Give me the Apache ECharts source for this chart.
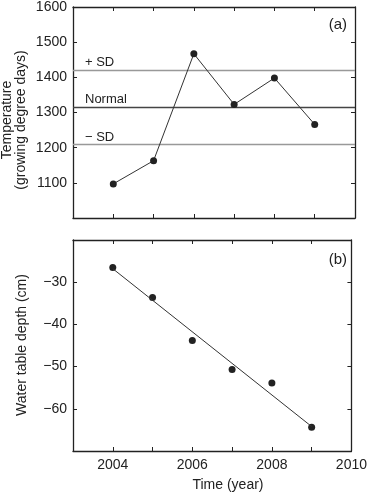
<!DOCTYPE html>
<html>
<head>
<meta charset="utf-8">
<script src="https://cdn.jsdelivr.net/npm/echarts@6/dist/echarts.min.js"></script>
<style>html,body{margin:0;padding:0;background:#fff;}#c{width:370px;height:493px;}</style>
</head>
<body>
<div id="c"></div>
<script>
var years = [2004, 2005, 2006, 2007, 2008, 2009];
var temperature = [1097, 1163, 1467, 1323, 1398, 1266];
var waterDepth = [-26.5, -33.6, -43.8, -50.7, -53.9, -64.4];
var fitYears = [2004, 2009];
var fitDepth = [-26.8, -64.2];
var refNames = ['+ SD', 'Normal', '\u2212 SD'];
var refValues = [1421, 1316, 1209];
var tempTickLabels = ['1100', '1200', '1300', '1400', '1500', '1600'];
var depthTickLabels = ['-30', '-40', '-50', '-60'];
var yearTickLabels = ['2004', '2006', '2008', '2010'];

var font = 'Liberation Sans, Arial, Helvetica, sans-serif';
var ink = '#222';

function frameAxis(gridIndex, pos, extra) {
  var a = {
    gridIndex: gridIndex, type: 'value', position: pos,
    axisLine: {show: true, onZero: false, lineStyle: {color: ink, width: 1.3}},
    axisTick: {show: true, inside: true, length: 4, lineStyle: {color: ink, width: 1}},
    axisLabel: {show: false},
    splitLine: {show: false}
  };
  for (var k in extra) a[k] = extra[k];
  return a;
}

var xBase = {min: 2003, max: 2010, interval: 1};
var labelStyle = {color: ink, fontSize: 14, fontFamily: font};

var option = {
  animation: false,
  backgroundColor: '#fff',
  grid: [
    {left: 73, top: 6, width: 282, height: 212},
    {left: 73, top: 240, width: 282, height: 211}
  ],
  xAxis: [
    frameAxis(0, 'bottom', xBase),
    frameAxis(0, 'top', xBase),
    frameAxis(1, 'bottom', Object.assign({}, xBase, {
      axisLabel: Object.assign({show: true, margin: 7, showMinLabel: true, showMaxLabel: true,
        formatter: function (v) { return yearTickLabels.indexOf(String(v)) >= 0 ? String(v) : ''; }}, labelStyle)
    })),
    frameAxis(1, 'top', xBase)
  ],
  yAxis: [
    frameAxis(0, 'left', {min: 1000, max: 1600, interval: 100,
      axisLabel: Object.assign({show: true, margin: 6,
        formatter: function (v) { return tempTickLabels.indexOf(String(v)) >= 0 ? String(v) : ''; }}, labelStyle)
    }),
    frameAxis(0, 'right', {min: 1000, max: 1600, interval: 100}),
    frameAxis(1, 'left', {min: -70, max: -20, interval: 10,
      axisLabel: Object.assign({show: true, margin: 6,
        formatter: function (v) { return depthTickLabels.indexOf(String(v)) >= 0 ? String(v).replace('-', '\u2212') : ''; }}, labelStyle)
    }),
    frameAxis(1, 'right', {min: -70, max: -20, interval: 10})
  ],
  graphic: [
    {type: 'text', x: 14, y: 120, rotation: Math.PI / 2,
      style: {text: 'Temperature\n(growing degree days)', fill: ink, font: '14px ' + font, align: 'center', verticalAlign: 'middle', lineHeight: 14}},
    {type: 'text', x: 22, y: 345, rotation: Math.PI / 2,
      style: {text: 'Water table depth (cm)', fill: ink, font: '14px ' + font, align: 'center', verticalAlign: 'middle'}},
    {type: 'text', x: 228, y: 485,
      style: {text: 'Time (year)', fill: ink, font: '14px ' + font, align: 'center', verticalAlign: 'middle'}},
    {type: 'text', x: 347, y: 25,
      style: {text: '(a)', fill: ink, font: '15px ' + font, align: 'right', verticalAlign: 'middle'}},
    {type: 'text', x: 347, y: 260,
      style: {text: '(b)', fill: ink, font: '15px ' + font, align: 'right', verticalAlign: 'middle'}}
  ],
  series: [
    {
      type: 'line', xAxisIndex: 0, yAxisIndex: 0,
      data: years.map(function (y, i) { return [y, temperature[i]]; }),
      symbol: 'circle', symbolSize: 7,
      itemStyle: {color: ink, opacity: 1},
      lineStyle: {color: '#333', width: 1},
      markLine: {
        silent: true, symbol: 'none',
        data: refValues.map(function (v, i) {
          return {yAxis: v, name: refNames[i],
            lineStyle: {color: i === 1 ? '#444' : '#999', width: 1.4, type: 'solid'}};
        }),
        label: {show: true, position: 'insideStartTop', distance: [12, 1], formatter: '{b}',
          color: ink, fontSize: 13, fontFamily: font}
      },
      z: 5
    },
    {
      type: 'line', xAxisIndex: 2, yAxisIndex: 2,
      data: fitYears.map(function (y, i) { return [y, fitDepth[i]]; }),
      symbol: 'none',
      lineStyle: {color: '#333', width: 1}
    },
    {
      type: 'scatter', xAxisIndex: 2, yAxisIndex: 2,
      data: years.map(function (y, i) { return [y, waterDepth[i]]; }),
      symbol: 'circle', symbolSize: 7,
      itemStyle: {color: ink, opacity: 1}
    }
  ]
};

var chart = echarts.init(document.getElementById('c'), null, {renderer: 'canvas'});
chart.setOption(option);
</script>
</body>
</html>
